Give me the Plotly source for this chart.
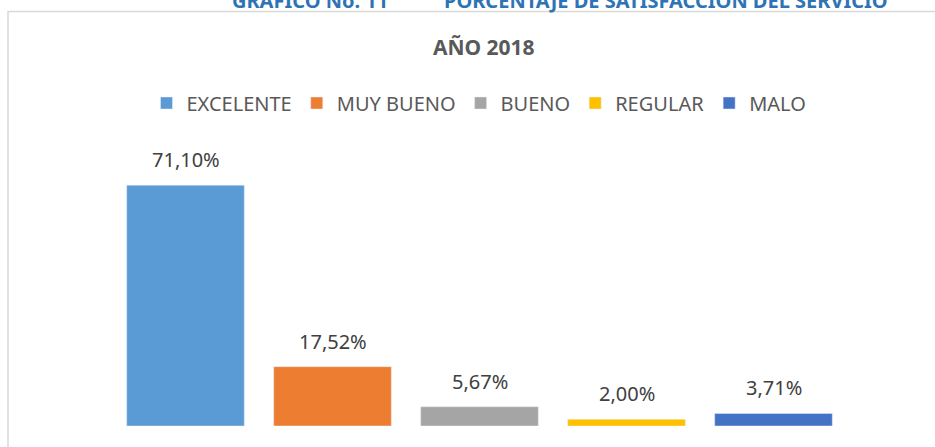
import plotly.graph_objects as go

categories = ["EXCELENTE", "MUY BUENO", "BUENO", "REGULAR", "MALO"]
values = [71.10, 17.52, 5.67, 2.00, 3.71]
labels = ["71,10%", "17,52%", "5,67%", "2,00%", "3,71%"]
colors = ["#5B9BD5", "#ED7D31", "#A5A5A5", "#FFC000", "#4472C4"]

W, H = 935, 447
L, R, T, B = 112, 88, 155, 21
pw, ph = W - L - R, H - T - B


def px_x(x):
    return (x - L) / pw


def px_y(y):
    return (H - B - y) / ph


FONT = "Noto Sans"
GREY = "#595959"

fig = go.Figure()
for c, v, col in zip(categories, values, colors):
    fig.add_trace(go.Bar(x=[c], y=[v], name=c, marker_color=col, width=0.8,
                         hoverinfo="skip"))

for c, v, lab in zip(categories, values, labels):
    fig.add_annotation(x=c, y=v, xref="x", yref="y", text=lab, showarrow=False,
                       yanchor="bottom", yshift=10,
                       font=dict(family=FONT, size=20, color="#404040"))

# Title
fig.add_annotation(x=px_x(484), y=px_y(47), xref="paper", yref="paper",
                   text="<b>AÑO 2018</b>", showarrow=False, yanchor="middle",
                   xanchor="center",
                   font=dict(family=FONT, size=21, color=GREY))

# Top heading (cropped at the top edge, as in the reference)
fig.add_annotation(x=px_x(230), y=px_y(0), xref="paper", yref="paper",
                   text="<b>GRÁFICO No. 11</b>", showarrow=False,
                   xanchor="left", yanchor="middle",
                   font=dict(family=FONT, size=20, color="#2E74B5"))
fig.add_annotation(x=px_x(442), y=px_y(0), xref="paper", yref="paper",
                   text="<b>PORCENTAJE DE SATISFACCIÓN DEL SERVICIO</b>",
                   showarrow=False, xanchor="left", yanchor="middle",
                   font=dict(family=FONT, size=20, color="#2E74B5"))

# Chart border (top and left visible)
fig.add_shape(type="rect", xref="paper", yref="paper",
              x0=px_x(8), x1=px_x(960), y0=px_y(470), y1=px_y(11.5),
              line=dict(color="#D9D9D9", width=1.5), fillcolor="rgba(0,0,0,0)",
              layer="below")

fig.update_layout(
    width=W, height=H,
    margin=dict(l=L, r=R, t=T, b=B),
    paper_bgcolor="white", plot_bgcolor="white",
    barmode="overlay",
    showlegend=True,
    legend=dict(orientation="h", x=px_x(479), xanchor="center",
                y=px_y(103), yanchor="middle",
                font=dict(family=FONT, size=20, color=GREY),
                bgcolor="rgba(0,0,0,0)"),
    xaxis=dict(visible=False, range=[-0.5, 4.5]),
    yaxis=dict(visible=False, range=[0, 80]),
)

fig.write_html("out.html",
               config={"displayModeBar": False},
               post_script="document.body.style.margin='0';"
                           "document.body.style.overflow='hidden';")
